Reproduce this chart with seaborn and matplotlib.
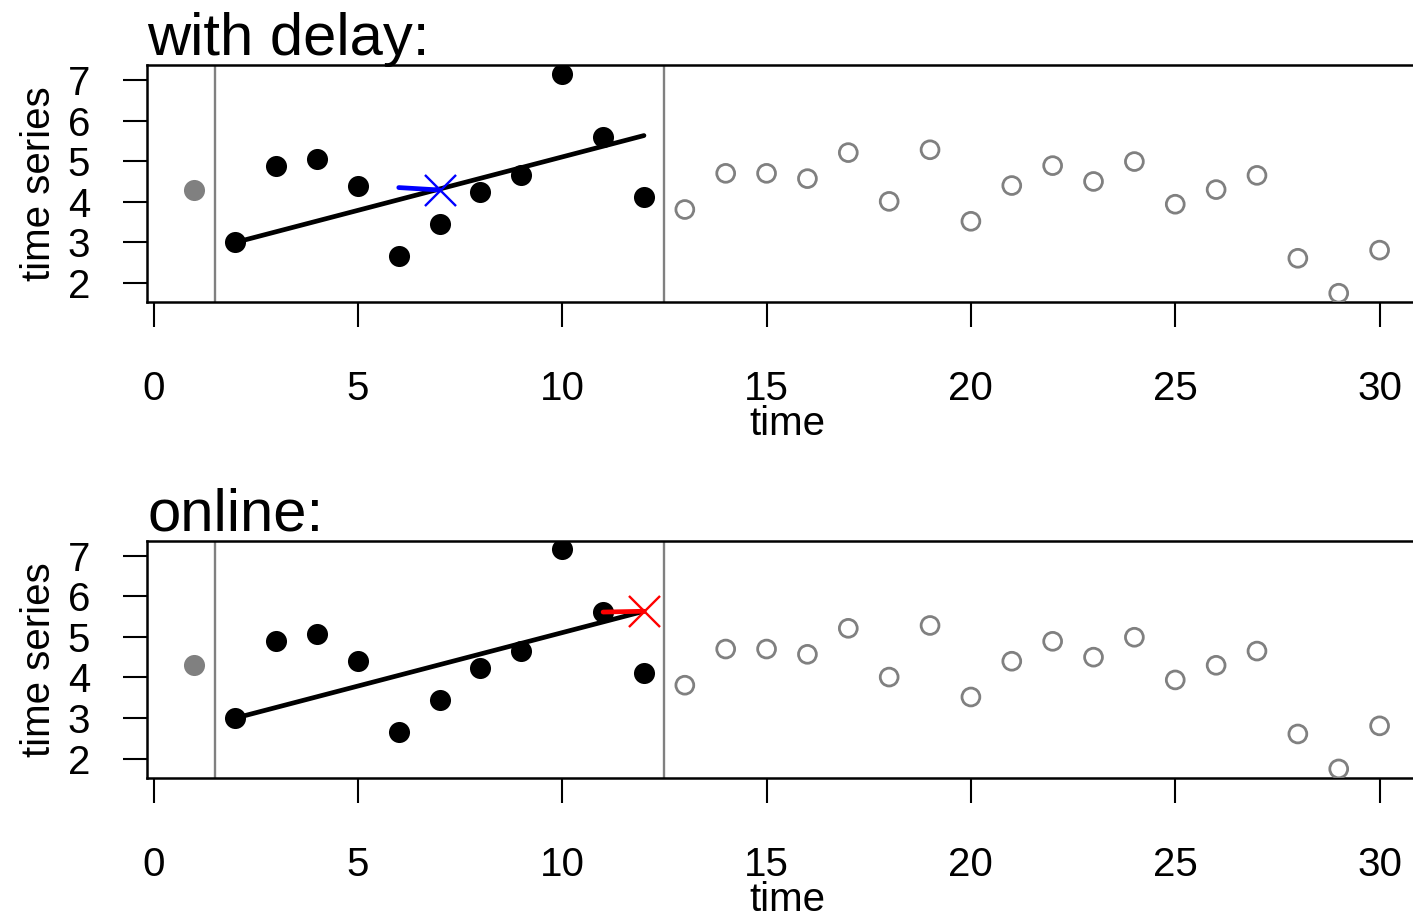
import numpy as np
import pandas as pd
import matplotlib
matplotlib.use("Agg")
import matplotlib.pyplot as plt
import seaborn as sns

# ---- data ----
time = [1, 2, 3, 4, 5, 6, 7, 8, 9, 10, 11, 12, 13, 14, 15,
        16, 17, 18, 19, 20, 21, 22, 23, 24, 25, 26, 27, 28, 29, 30]
series = [4.30, 3.00, 4.89, 5.06, 4.40, 2.66, 3.45, 4.23, 4.65, 7.15,
          5.60, 4.11, 3.81, 4.70, 4.70, 4.57, 5.21, 4.01, 5.28, 3.52,
          4.40, 4.89, 4.50, 4.99, 3.94, 4.30, 4.65, 2.61, 1.75, 2.81]
window = [1.5, 12.5]
trend_x = [2, 12]
trend_y = [3.00, 5.63]
delay_x = [6, 7]
delay_y = [4.35, 4.29]
online_x = [11, 12]
online_y = [5.61, 5.63]
panel_titles = ["with delay:", "online:"]
xticks = [0, 5, 10, 15, 20, 25, 30]
yticks = [2, 3, 4, 5, 6, 7]

sns.set_theme(style="white")
plt.rcParams['font.family'] = ['Liberation Sans', 'DejaVu Sans']

df = pd.DataFrame({"time": time, "value": series})
df["role"] = np.where(df["time"] < window[0], "before",
                      np.where(df["time"] < window[1], "window", "after"))

W, H = 1413, 914
fig = plt.figure(figsize=(W / 100, H / 100), dpi=100)

ax_left = 147 / W
ax_w = (1427 - 147) / W
ax_h = 237 / H
tops = [65, 540.7]

GRAY = "#808080"

for i, (top, title) in enumerate(zip(tops, panel_titles)):
    ax = fig.add_axes([ax_left, 1 - (top + 237) / H, ax_w, ax_h])
    for v in window:
        ax.axvline(v, color=GRAY, lw=1.7, zorder=1)

    sns.lineplot(x=trend_x, y=trend_y, ax=ax, color="black", lw=3.4, zorder=3)

    d = df[df.role == "before"]
    sns.scatterplot(data=d, x="time", y="value", ax=ax, s=230, color=GRAY,
                    edgecolor=GRAY, linewidth=0, zorder=4)
    d = df[df.role == "window"]
    sns.scatterplot(data=d, x="time", y="value", ax=ax, s=230, color="black",
                    edgecolor="black", linewidth=0, zorder=4)
    d = df[df.role == "after"]
    sns.scatterplot(data=d, x="time", y="value", ax=ax, s=165,
                    facecolor="none", edgecolor=GRAY, linewidth=2.0, zorder=4)

    if i == 0:
        fx, fy, col = delay_x, delay_y, "blue"
    else:
        fx, fy, col = online_x, online_y, "red"
    sns.lineplot(x=fx, y=fy, ax=ax, color=col, lw=3.4, zorder=5)
    sns.scatterplot(x=[fx[-1]], y=[fy[-1]], ax=ax, marker="x", s=500,
                    color=col, linewidth=1.7, zorder=6)

    ax.set_xlim(-0.16, 31.16)
    ax.set_ylim(1.534, 7.366)
    ax.set_xticks(xticks)
    ax.set_yticks(yticks)
    ax.set_xticklabels([str(t) for t in xticks])
    ax.set_yticklabels([str(t) for t in yticks])
    ax.tick_params(axis="x", direction="out", length=18, width=1.5,
                   pad=31, labelsize=29, colors="black", bottom=True)
    ax.tick_params(axis="y", direction="out", length=17, width=1.5,
                   pad=24, labelsize=29, colors="black", left=True)
    for sp in ax.spines.values():
        sp.set_color("black")
        sp.set_linewidth(1.8)
        sp.set_visible(True)
    ax.set_xlabel("time", fontsize=29, labelpad=-2, color="black")
    ax.set_ylabel("time series", fontsize=29, labelpad=7, color="black")
    ax.annotate(title, xy=(0, 1), xycoords="axes fraction",
                xytext=(0, 7), textcoords="offset points",
                ha="left", va="baseline", fontsize=43, color="black")

fig.savefig("out.png", dpi=100)
